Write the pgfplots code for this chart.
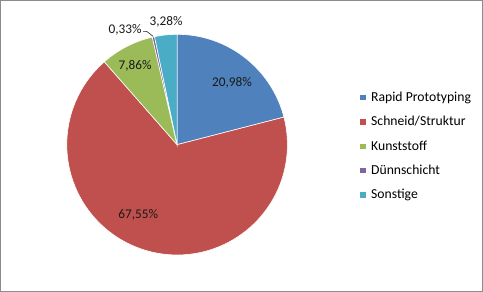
\documentclass[border=0pt]{standalone}
\usepackage{fontspec}
\setmainfont{Carlito}
\usepackage{pgfplots}
\usepackage{pgfplotstable}
\pgfplotsset{compat=1.18}
\definecolor{c0}{HTML}{4F81BD}
\definecolor{c1}{HTML}{C0504D}
\definecolor{c2}{HTML}{9BBB59}
\definecolor{c3}{HTML}{8064A2}
\definecolor{c4}{HTML}{4BACC6}
\pgfplotstableread[col sep=comma]{
label,value
Rapid Prototyping,20.98
Schneid/Struktur,67.55
Kunststoff,7.86
Dünnschicht,0.33
Sonstige,3.28
}\piedata
% cumulative angles, clockwise from 12 o'clock
\def\cumangle{90}
\pgfplotsforeachungrouped \i in {0,...,4} {%
  \pgfplotstablegetelem{\i}{value}\of\piedata
  \pgfmathsetmacro\endang{\cumangle-3.6*\pgfplotsretval}%
  \expandafter\xdef\csname pstart\i\endcsname{\cumangle}%
  \expandafter\xdef\csname pend\i\endcsname{\endang}%
  \xdef\cumangle{\endang}%
}
\def\cx{177}\def\cy{146.5}\def\R{110.5}
\begin{document}
\begin{tikzpicture}
\begin{axis}[
  scale only axis, width=483bp, height=291bp,
  xmin=0, xmax=483, ymin=0, ymax=291,
  xtick=\empty, ytick=\empty,
  axis line style={draw=black!45, line width=0.8bp},
  legend style={draw=none, fill=none, at={(axis cs:359,201)}, anchor=north west,
    font=\fontsize{13.7bp}{15bp}\selectfont, row sep=10.4bp, inner sep=0pt,
    nodes={inner sep=1.5bp}},
  legend cell align=left,
  legend image code/.code={\fill[#1] (0bp,-3.3bp) rectangle (6.6bp,3.3bp);},
]
\pgfplotsinvokeforeach{0,...,4}{
  \pgfplotstablegetelem{#1}{label}\of\piedata
  \edef\thislabel{\pgfplotsretval}
  \addplot[fill=c#1, draw=white, line width=0.6bp, domain=\csname pend#1\endcsname:\csname pstart#1\endcsname,
    samples=90, variable=\t, forget plot=false]
    ({\cx+\R*cos(\t)},{\cy+\R*sin(\t)}) -- (axis cs:\cx,\cy) -- cycle;
  \addlegendentryexpanded{\hspace{3.5bp}\thislabel}
}
\begin{scope}[every node/.style={font=\fontsize{13.3bp}{15bp}\selectfont, text=black!90, inner sep=0pt}]
\node at (axis cs:232,208) {20,98\%};
\node at (axis cs:138,76) {67,55\%};
\node at (axis cs:135,225) {7,86\%};
\node at (axis cs:125,262) {0,33\%};
\node at (axis cs:166,270) {3,28\%};
\end{scope}
\draw[black!85, line width=0.6bp] (axis cs:143,260) -- (axis cs:146.5,260) -- (axis cs:153,255);
\end{axis}
\end{tikzpicture}
\end{document}
